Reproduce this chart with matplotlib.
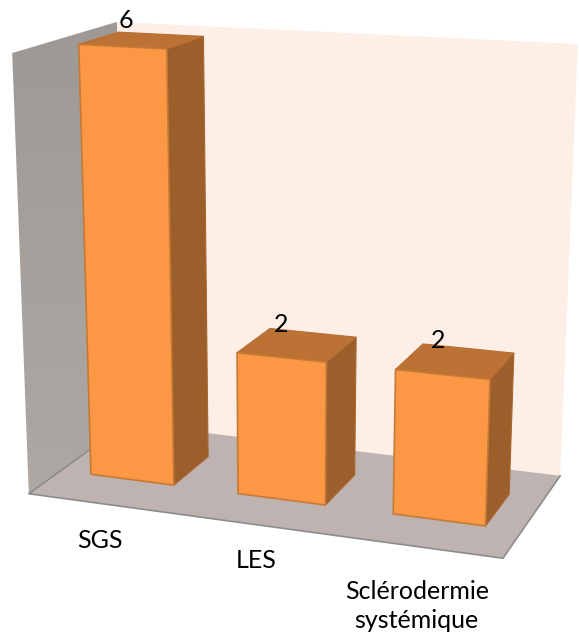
import numpy as np
import matplotlib
matplotlib.use("Agg")
import matplotlib.pyplot as plt
from matplotlib.patches import Polygon

categories = ["SGS", "LES", "Sclérodermie\nsystémique"]
values = [6, 2, 2]
z_max = 6.0
bar_lo, bar_hi = 0.21, 0.78
depth_lo, depth_hi = 0.31, 0.70
label_x = [0.66, 0.64, 0.63]
label_depth = [-0.26, -0.25, -0.32]

# projective camera calibration: (category, depth, value) -> pixel
calib_world = [
    (0, 0, 0), (3, 0, 0), (3, 1, 0), (0, 1, 0),
    (0, 0, 6), (0, 1, 6), (3, 1, 6),
]
calib_pix = [
    (28, 494), (503, 558), (560, 476), (127, 423),
    (13, 53), (116, 22), (578, 44),
]

def fit_camera(world, pix):
    A, b = [], []
    for (x, y, z), (u, v) in zip(world, pix):
        A.append([x, y, z, 1, 0, 0, 0, 0, -u*x, -u*y, -u*z]); b.append(u)
        A.append([0, 0, 0, 0, x, y, z, 1, -v*x, -v*y, -v*z]); b.append(v)
    sol = np.linalg.lstsq(np.array(A, float), np.array(b, float), rcond=None)[0]
    return np.append(sol, 1.0).reshape(3, 4)

P = fit_camera(calib_world, calib_pix)

def proj(x, y, z):
    h = P @ np.array([x, y, z, 1.0])
    return h[:2] / h[2]

fig = plt.figure(figsize=(5.79, 6.35), dpi=100)
ax = fig.add_axes([0, 0, 1, 1])
ax.set_xlim(0, 579); ax.set_ylim(635, 0); ax.axis("off")

def face(pts, fc, ec="none", lw=0, z=1):
    p = Polygon([proj(*q) for q in pts], closed=True, fc=fc, ec=ec, lw=lw, zorder=z, joinstyle="round")
    ax.add_patch(p)
    return p

# back wall
face([(0,1,0),(3,1,0),(3,1,z_max),(0,1,z_max)], "#FDEEE6", z=1)
# left wall with vertical gradient
wall = face([(0,0,0),(0,1,0),(0,1,z_max),(0,0,z_max)], "none", z=2)
grad = np.linspace(0, 1, 64)[:, None, None]
top = np.array([0.62, 0.60, 0.585]); bot = np.array([0.68, 0.66, 0.645])
img = ax.imshow(top + (bot - top) * grad, extent=(0, 300, 500, 20), aspect="auto", zorder=2)
img.set_clip_path(wall)
ax.set_xlim(0, 579); ax.set_ylim(635, 0)
# floor
face([(0,0,0),(3,0,0),(3,1,0),(0,1,0)], "#BEB3B0", z=3)
ax.plot(*np.array([proj(0,1,0), proj(0,0,0), proj(3,0,0), proj(3,1,0)]).T, color="#8C8C8C", lw=1.2, zorder=3)

edge = "#C47A35"
for i, v in enumerate(values):
    x0, x1 = i + bar_lo, i + bar_hi
    y0, y1 = depth_lo, depth_hi
    zo = 4 + i
    face([(x1,y0,0),(x1,y1,0),(x1,y1,v),(x1,y0,v)], "#9C5F2B", ec="#A8662E", lw=0.8, z=zo)
    face([(x0,y0,v),(x1,y0,v),(x1,y1,v),(x0,y1,v)], "#BC7235", ec="#B56E32", lw=0.8, z=zo)
    face([(x0,y0,0),(x1,y0,0),(x1,y0,v),(x0,y0,v)], "#FB9745", ec=edge, lw=1.2, z=zo)
    px = proj(i + 0.39, 0.5, v)
    ax.text(px[0], px[1] - 19, str(v), fontsize=18, family="Lato", color="black",
            ha="center", va="center", zorder=10)
    lab = proj(i + label_x[i], label_depth[i], 0)
    ax.text(lab[0], lab[1], categories[i], fontsize=18, family="Lato", color="black",
            ha="center", va="top", linespacing=1.36, zorder=10)

fig.savefig("out.png", dpi=100)
